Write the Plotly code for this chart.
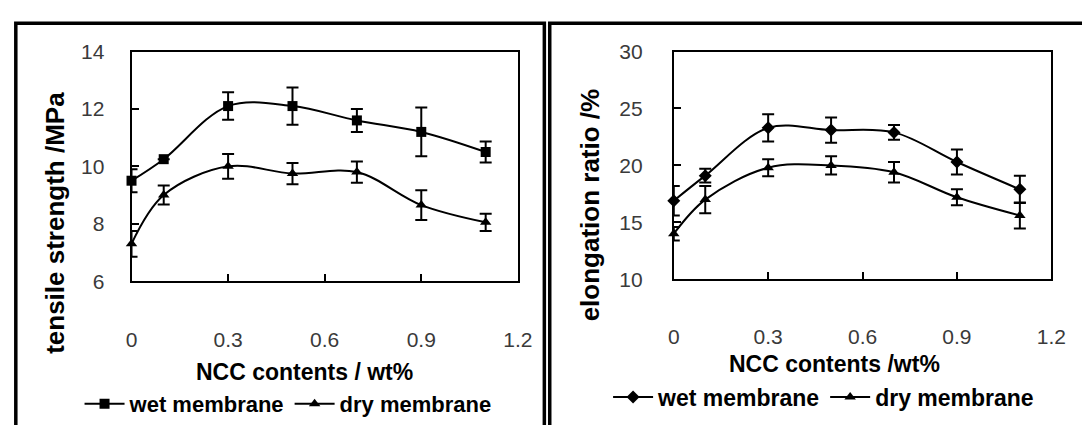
import plotly.graph_objects as go

# ---- data ----
ncc = [0, 0.1, 0.3, 0.5, 0.7, 0.9, 1.1]

ts_wet = [9.5, 10.25, 12.1, 12.1, 11.6, 11.2, 10.5]
ts_wet_err = [0.4, 0.0, 0.48, 0.65, 0.4, 0.85, 0.37]
ts_dry = [7.3, 9.0, 10.0, 9.75, 9.8, 8.65, 8.05]
ts_dry_err = [0.45, 0.33, 0.43, 0.37, 0.37, 0.52, 0.3]

el_wet = [16.9, 19.1, 23.3, 23.1, 22.9, 20.3, 17.9]
el_wet_err = [1.3, 0.6, 1.2, 1.1, 0.65, 1.1, 1.2]
el_dry = [14.0, 17.0, 19.8, 20.0, 19.4, 17.2, 15.6]
el_dry_err = [0.6, 1.2, 0.75, 0.8, 0.9, 0.7, 1.15]

x_ticks = [0, 0.3, 0.6, 0.9, 1.2]
x_ticktext = ["0", "0.3", "0.6", "0.9", "1.2"]
ts_ticks = [6, 8, 10, 12, 14]
el_ticks = [10, 15, 20, 25, 30]

series_names = ["wet membrane", "dry membrane"]

W, H = 1082, 425
BOLD = "Liberation Sans, Arial, sans-serif"
NARROW = "Liberation Sans Narrow, Arial Narrow, Liberation Sans, sans-serif"

fig = go.Figure()

def add(xa, ya, y, err, name, symbol, size, legend):
    fig.add_trace(go.Scatter(
        x=ncc, y=y, name=name, mode="lines+markers",
        xaxis=xa, yaxis=ya, legend=legend,
        line=dict(color="black", width=2, shape="spline", smoothing=1.0),
        marker=dict(symbol=symbol, size=size, color="black"),
        error_y=dict(type="data", array=err, visible=True, color="black",
                     thickness=2, width=6),
        cliponaxis=False,
    ))

add("x", "y", ts_wet, ts_wet_err, series_names[0], "square", 10, "legend")
add("x", "y", ts_dry, ts_dry_err, series_names[1], "triangle-up", 10, "legend")
add("x2", "y2", el_wet, el_wet_err, series_names[0], "diamond", 10, "legend2")
add("x2", "y2", el_dry, el_dry_err, series_names[1], "triangle-up", 10, "legend2")

def px_x(p):
    return p / W

def px_y(p):
    return 1 - p / H

tickfont = dict(family=NARROW, size=21, color="#3a3a3a")
axis_common = dict(showgrid=False, zeroline=False, showline=True, linecolor="black",
                   linewidth=2, mirror=True, ticks="inside", ticklen=7,
                   tickwidth=2, tickcolor="black", tickfont=tickfont)

fig.update_layout(
    width=W, height=H,
    margin=dict(l=0, r=0, t=0, b=0),
    paper_bgcolor="white", plot_bgcolor="white",
    xaxis=dict(domain=[px_x(128), px_x(522)], range=[0, 1.2], tickvals=x_ticks,
               ticktext=x_ticktext, anchor="y", ticklabelstandoff=39, **axis_common),
    yaxis=dict(domain=[px_y(286), px_y(42)], range=[6, 14], tickvals=ts_ticks,
               anchor="x", ticklabelstandoff=21, **axis_common),
    xaxis2=dict(domain=[px_x(681), px_x(1066)], range=[0, 1.2], tickvals=x_ticks,
                ticktext=x_ticktext, anchor="y2", ticklabelstandoff=38, **axis_common),
    yaxis2=dict(domain=[px_y(284), px_y(42)], range=[10, 30], tickvals=el_ticks,
                anchor="x2", ticklabelstandoff=25, **axis_common),
    legend=dict(orientation="h", x=px_x(75), y=px_y(417), xanchor="left", yanchor="middle",
                font=dict(family=BOLD, size=22, color="black", weight="bold"),
                bgcolor="rgba(0,0,0,0)", itemwidth=40, tracegroupgap=0),
    legend2=dict(orientation="h", x=px_x(614), y=px_y(409), xanchor="left", yanchor="middle",
                 font=dict(family=BOLD, size=23, color="black", weight="bold"),
                 bgcolor="rgba(0,0,0,0)", itemwidth=40, tracegroupgap=0),
    showlegend=True,
)

titlefont = dict(family=BOLD, size=23, color="black", weight="bold")
ytitlefont = dict(family=BOLD, size=26, color="black", weight="bold")
fig.add_annotation(text="NCC contents / wt%", x=px_x(304), y=px_y(383), xref="paper", yref="paper",
                   showarrow=False, font=titlefont, xanchor="center", yanchor="middle")
fig.add_annotation(text="NCC contents /wt%", x=px_x(845), y=px_y(374), xref="paper", yref="paper",
                   showarrow=False, font=titlefont, xanchor="center", yanchor="middle")
fig.add_annotation(text="tensile strength /MPa", x=px_x(50), y=px_y(224), xref="paper", yref="paper",
                   showarrow=False, font=ytitlefont, textangle=-90, xanchor="center", yanchor="middle")
fig.add_annotation(text="elongation ratio /%", x=px_x(596), y=px_y(205), xref="paper", yref="paper",
                   showarrow=False, font=ytitlefont, textangle=-90, xanchor="center", yanchor="middle")

# panel frames
fig.add_shape(type="rect", xref="paper", yref="paper", x0=px_x(10), x1=px_x(549),
              y0=-0.2, y1=px_y(12), line=dict(color="black", width=3.5), layer="above")
fig.add_shape(type="rect", xref="paper", yref="paper", x0=px_x(554.5), x1=1.2,
              y0=-0.2, y1=px_y(12), line=dict(color="black", width=3.5), layer="above")

fig.write_html("out.html")
